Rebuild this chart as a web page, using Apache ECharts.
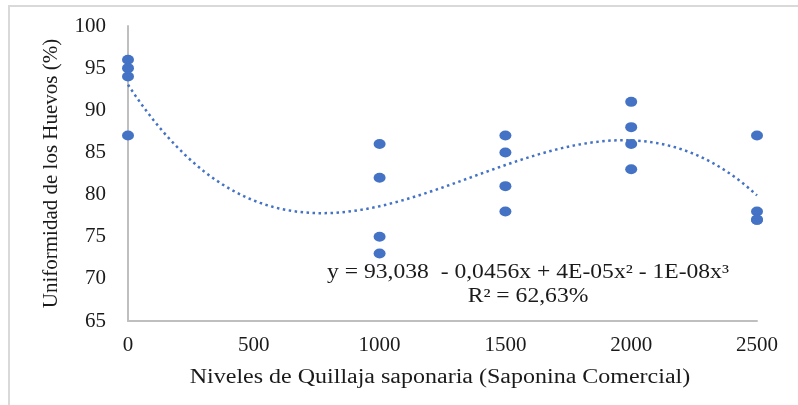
<!DOCTYPE html>
<html><head><meta charset="utf-8">
<script src="https://cdn.jsdelivr.net/npm/echarts@6/dist/echarts.min.js"></script>
<style>html,body{margin:0;padding:0;background:#fff}#c{width:798px;height:405px}</style>
</head><body><div id="c"></div>
<script>
const levels = [0, 0, 0, 0, 1000, 1000, 1000, 1000, 1500, 1500, 1500, 1500, 2000, 2000, 2000, 2000, 2500, 2500, 2500, 2500];
const uniformity = [96, 95, 94, 87, 86, 82, 75, 73, 87, 85, 81, 78, 91, 88, 86, 83, 87, 78, 77, 77];
const xTicks = [0, 500, 1000, 1500, 2000, 2500];
const yTicks = [65, 70, 75, 80, 85, 90, 95, 100];
const xTitle = 'Niveles de Quillaja saponaria (Saponina Comercial)';
const yTitle = 'Uniformidad de los Huevos (%)';
const equationText = 'y = 93,038  - 0,0456x + 4E-05x² - 1E-08x³';
const r2Text = 'R² = 62,63%';

// least-squares cubic trendline computed from the data
function cubicFit(xs, ys) {
  const n = 4, A = [], b = [];
  for (let i = 0; i < n; i++) { A.push(new Array(n).fill(0)); b.push(0); }
  xs.forEach((xv, k) => {
    const t = xv / 1000;
    const p = [1, t, t * t, t * t * t];
    for (let i = 0; i < n; i++) { b[i] += p[i] * ys[k]; for (let j = 0; j < n; j++) A[i][j] += p[i] * p[j]; }
  });
  for (let i = 0; i < n; i++) {
    let m = i; for (let r = i + 1; r < n; r++) if (Math.abs(A[r][i]) > Math.abs(A[m][i])) m = r;
    [A[i], A[m]] = [A[m], A[i]]; [b[i], b[m]] = [b[m], b[i]];
    for (let r = i + 1; r < n; r++) { const f = A[r][i] / A[i][i]; for (let c = i; c < n; c++) A[r][c] -= f * A[i][c]; b[r] -= f * b[i]; }
  }
  const c = new Array(n).fill(0);
  for (let i = n - 1; i >= 0; i--) { let s = b[i]; for (let j = i + 1; j < n; j++) s -= A[i][j] * c[j]; c[i] = s / A[i][i]; }
  return c;
}
const coef = cubicFit(levels, uniformity);
const trend = [];
for (let xv = 0; xv <= 2500; xv += 25) { const t = xv / 1000; trend.push([xv, coef[0] + coef[1] * t + coef[2] * t * t + coef[3] * t * t * t]); }

const chart = echarts.init(document.getElementById('c'), null, { renderer: 'canvas' });
const serif = '"Liberation Serif", "Times New Roman", serif';
const ink = '#1a1a1a';
chart.setOption({
  animation: false,
  grid: { left: 128, right: 41, top: 26, bottom: 84, containLabel: false },
  xAxis: {
    type: 'value', min: 0, max: 2500, interval: 500,
    axisLine: { show: true, lineStyle: { color: '#bfbfbf', width: 2 } },
    axisTick: { show: false }, splitLine: { show: false },
    axisLabel: { fontFamily: serif, fontSize: 21, color: ink, margin: 14, formatter: v => String(v) }
  },
  yAxis: {
    type: 'value', min: 65, max: 100, interval: 5,
    name: yTitle, nameLocation: 'middle', nameGap: 66, nameRotate: 90,
    nameTextStyle: { fontFamily: serif, fontSize: 21, color: ink },
    axisLine: { show: true, lineStyle: { color: '#bfbfbf', width: 2 } },
    axisTick: { show: false }, splitLine: { show: false },
    axisLabel: { fontFamily: serif, fontSize: 21, color: ink, margin: 22, formatter: v => String(v) }
  },
  graphic: [
    { type: 'rect', shape: { x: 9, y: 6, width: 820, height: 420 }, style: { fill: 'none', stroke: '#d9d9d9', lineWidth: 2 }, silent: true },
    { type: 'text', x: 440, y: 378, scaleX: 1.2, style: { text: xTitle, align: 'center', verticalAlign: 'middle', fontFamily: serif, fontSize: 20, fill: ink } },
    { type: 'text', x: 528, y: 273, scaleX: 1.18, style: { text: equationText, align: 'center', verticalAlign: 'middle', fontFamily: serif, fontSize: 20, fill: ink } },
    { type: 'text', x: 528, y: 297, scaleX: 1.18, style: { text: r2Text, align: 'center', verticalAlign: 'middle', fontFamily: serif, fontSize: 20, fill: ink } }
  ],
  series: [
    { type: 'line', data: trend, showSymbol: false, smooth: false, z: 2,
      lineStyle: { color: '#4472C4', width: 2.5, type: [2.5, 3.5] } },
    { type: 'scatter', data: levels.map((xv, i) => [xv, uniformity[i]]), symbol: 'circle', symbolSize: [12, 10], z: 3,
      itemStyle: { color: '#4472C4', opacity: 1 } }
  ]
});
</script></body></html>
